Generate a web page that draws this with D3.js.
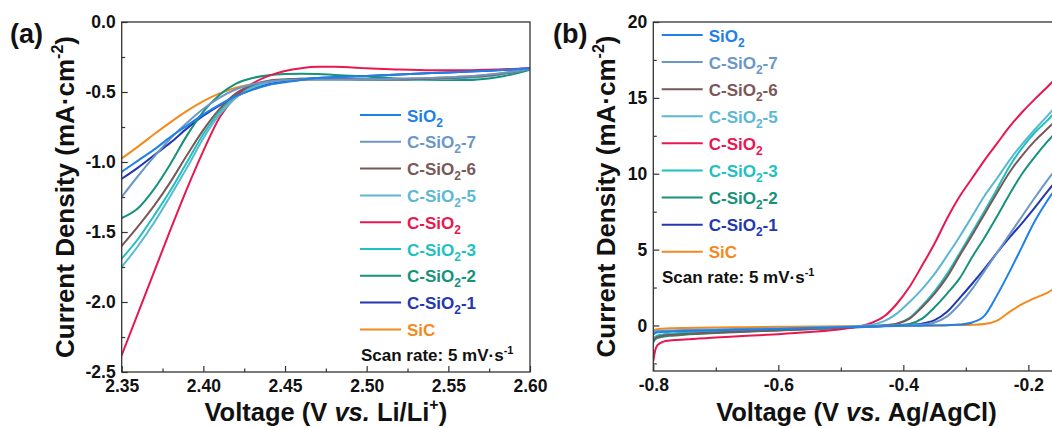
<!DOCTYPE html>
<html>
<head>
<meta charset="utf-8">
<script src="https://cdn.jsdelivr.net/npm/d3@7"></script>
<style>
  html, body { margin: 0; padding: 0; background: #fff; }
  svg { display: block; font-family: "Liberation Sans", Arial, sans-serif; font-weight: bold; }
</style>
</head>
<body>
<svg id="chart" width="1052" height="428"></svg>
<script>
// ---------- Panel (a): LSV in Li/Li+ window (V vs J, mA cm^-2) ----------
const voltA = [2.35, 2.36, 2.37, 2.38, 2.39, 2.40, 2.41, 2.42, 2.43, 2.44, 2.45, 2.46, 2.47, 2.48, 2.50, 2.52, 2.54, 2.56, 2.58, 2.60];
const sio2A  = [-1.07, -0.99, -0.91, -0.82, -0.74, -0.66, -0.59, -0.53, -0.485, -0.45, -0.43, -0.415, -0.40, -0.395, -0.385, -0.375, -0.365, -0.355, -0.345, -0.33];
const c7A    = [-1.25, -1.10, -0.96, -0.83, -0.72, -0.62, -0.54, -0.48, -0.445, -0.425, -0.415, -0.41, -0.41, -0.41, -0.41, -0.405, -0.40, -0.39, -0.37, -0.335];
const c6A    = [-1.60, -1.46, -1.31, -1.14, -0.95, -0.77, -0.62, -0.51, -0.45, -0.42, -0.41, -0.405, -0.405, -0.405, -0.41, -0.41, -0.405, -0.395, -0.375, -0.335];
const c5A    = [-1.75, -1.60, -1.43, -1.24, -1.04, -0.83, -0.66, -0.54, -0.47, -0.43, -0.415, -0.41, -0.41, -0.41, -0.415, -0.415, -0.41, -0.40, -0.38, -0.335];
const cA     = [-2.38, -2.08, -1.78, -1.48, -1.19, -0.92, -0.68, -0.53, -0.44, -0.385, -0.35, -0.33, -0.32, -0.32, -0.33, -0.34, -0.345, -0.345, -0.34, -0.33];
const c3A    = [-1.69, -1.55, -1.38, -1.20, -1.00, -0.80, -0.64, -0.525, -0.46, -0.425, -0.41, -0.405, -0.405, -0.405, -0.41, -0.41, -0.405, -0.395, -0.375, -0.335];
const c2A    = [-1.40, -1.33, -1.19, -1.01, -0.81, -0.64, -0.52, -0.44, -0.40, -0.38, -0.372, -0.37, -0.372, -0.378, -0.39, -0.405, -0.415, -0.415, -0.395, -0.34];
const c1A    = [-1.12, -1.04, -0.95, -0.86, -0.76, -0.67, -0.595, -0.53, -0.48, -0.445, -0.425, -0.41, -0.40, -0.395, -0.385, -0.375, -0.365, -0.355, -0.345, -0.33];
const sicA   = [-0.974, -0.89, -0.80, -0.715, -0.635, -0.565, -0.51, -0.47, -0.445, -0.43, -0.42, -0.415, -0.41, -0.41, -0.41, -0.405, -0.40, -0.39, -0.37, -0.335];

// ---------- Panel (b): LSV vs Ag/AgCl ----------
const voltB = [-0.80, -0.797, -0.793, -0.785, -0.77, -0.75, -0.70, -0.65, -0.60, -0.55, -0.50, -0.47, -0.45, -0.43, -0.41, -0.39, -0.37, -0.35, -0.33, -0.31, -0.29, -0.27, -0.25, -0.23, -0.21, -0.19, -0.17, -0.15];
const sio2B = [-0.6, -0.5, -0.45, -0.42, -0.4, -0.37, -0.32, -0.27, -0.23, -0.17, -0.12, -0.09, -0.07, -0.05, -0.03, -0.02, -0.01, 0.0, 0.02, 0.06, 0.2, 0.65, 2.0, 3.55, 5.2, 6.85, 8.2, 9.4];
const c7B   = [-0.45, -0.4, -0.37, -0.35, -0.33, -0.3, -0.26, -0.23, -0.2, -0.15, -0.1, -0.07, -0.05, -0.02, 0.0, 0.02, 0.06, 0.2, 0.6, 1.4, 2.4, 3.6, 4.8, 6.0, 7.2, 8.4, 9.55, 10.6];
const c6B   = [-1.0, -0.85, -0.75, -0.68, -0.62, -0.56, -0.46, -0.38, -0.31, -0.23, -0.15, -0.09, -0.05, 0.02, 0.12, 0.45, 1.2, 2.1, 3.2, 4.6, 5.95, 7.35, 8.75, 10.1, 11.2, 12.15, 12.95, 13.7];
const c5B   = [-0.55, -0.48, -0.43, -0.4, -0.37, -0.34, -0.29, -0.24, -0.2, -0.15, -0.09, -0.03, 0.05, 0.3, 0.8, 1.55, 2.4, 3.4, 4.6, 5.85, 7.2, 8.55, 9.7, 10.9, 11.95, 12.9, 13.8, 14.7];
const cB    = [-2.35, -1.65, -1.28, -1.08, -0.98, -0.92, -0.8, -0.68, -0.57, -0.43, -0.25, -0.06, 0.18, 0.62, 1.45, 2.55, 3.95, 5.4, 7.05, 8.5, 9.7, 10.9, 12.0, 13.1, 14.05, 14.9, 15.7, 16.55];
const c3B   = [-0.9, -0.75, -0.66, -0.6, -0.54, -0.48, -0.39, -0.33, -0.27, -0.2, -0.13, -0.08, -0.04, 0.02, 0.12, 0.5, 1.3, 2.25, 3.4, 4.75, 6.15, 7.55, 9.0, 10.5, 11.7, 12.7, 13.5, 14.4];
const c2B   = [-1.1, -0.92, -0.82, -0.74, -0.67, -0.61, -0.5, -0.41, -0.33, -0.25, -0.16, -0.11, -0.07, -0.03, 0.02, 0.1, 0.45, 1.2, 2.1, 3.1, 4.5, 5.8, 7.2, 8.65, 10.0, 11.1, 12.1, 13.0];
const c1B   = [-0.95, -0.8, -0.7, -0.63, -0.57, -0.51, -0.42, -0.36, -0.3, -0.22, -0.15, -0.1, -0.07, -0.04, 0.0, 0.04, 0.12, 0.35, 0.9, 1.8, 2.75, 3.75, 4.8, 5.8, 6.75, 7.75, 8.8, 9.8];
const sicB  = [-0.35, -0.28, -0.24, -0.21, -0.18, -0.16, -0.13, -0.11, -0.09, -0.07, -0.05, -0.04, -0.03, -0.02, -0.01, 0.0, 0.0, 0.01, 0.02, 0.03, 0.05, 0.1, 0.32, 0.9, 1.4, 1.8, 2.15, 2.7];

// Sample names in legend order
const sampleNames = ["SiO2", "C-SiO2-7", "C-SiO2-6", "C-SiO2-5", "C-SiO2", "C-SiO2-3", "C-SiO2-2", "C-SiO2-1", "SiC"];
const seriesA = [sio2A, c7A, c6A, c5A, cA, c3A, c2A, c1A, sicA];
const seriesB = [sio2B, c7B, c6B, c5B, cB, c3B, c2B, c1B, sicB];

// Tick values and labels
const xMajorA = [2.35, 2.40, 2.45, 2.50, 2.55, 2.60];
const xMinorA = [2.375, 2.425, 2.475, 2.525, 2.575];
const yMajorA = [0, -0.5, -1.0, -1.5, -2.0, -2.5];
const yMinorA = [-0.25, -0.75, -1.25, -1.75, -2.25];
const xMajorB = [-0.8, -0.6, -0.4, -0.2];
const xMinorB = [-0.7, -0.5, -0.3];
const yMajorB = [0, 5, 10, 15, 20];
const yMinorB = [-2.5, 2.5, 7.5, 12.5, 17.5];

const palette = ["#1f80e8", "#6b97c7", "#7a5858", "#5bb8d3", "#e8174f", "#1fc0c0", "#16917a", "#2237b0", "#f28a1e"];

const svg = d3.select("#chart");
svg.append("rect").attr("width", 1052).attr("height", 428).attr("fill", "#fff");
const defs = svg.append("defs");

// Chemical label with subscripted "2"
function chemText(sel, name) {
  const i = name.indexOf("O2");
  if (i < 0) { sel.append("tspan").text(name); return; }
  sel.append("tspan").text(name.slice(0, i + 1));
  sel.append("tspan").attr("font-size", "12px").attr("dy", 5).text("2");
  const rest = name.slice(i + 2);
  if (rest) sel.append("tspan").attr("dy", -5).text(rest);
}

function styleAxis(g) {
  g.select(".domain").remove();
  g.selectAll(".tick line").attr("stroke", "#333").attr("stroke-width", 1.2);
  g.selectAll(".tick text").attr("font-family", "'Liberation Sans', Arial, sans-serif")
    .attr("font-weight", "bold").attr("font-size", "17.5px").attr("fill", "#111");
  g.attr("font-family", null).attr("font-size", null);
}

function drawPanel(o) {
  const x = d3.scaleLinear().domain(o.xDomain).range([o.left, o.right]);
  const y = d3.scaleLinear().domain(o.yDomain).range([o.bottom, o.top]);
  const g = svg.append("g");

  defs.append("clipPath").attr("id", o.id + "-clip")
    .append("rect").attr("x", o.left).attr("y", o.top)
    .attr("width", o.right - o.left).attr("height", o.bottom - o.top);

  // curves, last legend entry drawn first
  const line = d3.line().x(d => x(d[0])).y(d => y(d[1])).curve(d3.curveMonotoneX);
  const curves = g.append("g").attr("clip-path", `url(#${o.id}-clip)`);
  for (let k = o.series.length - 1; k >= 0; k--) {
    const pts = o.volts.map((v, j) => [v, o.series[k][j]]);
    curves.append("path").attr("d", line(pts)).attr("fill", "none")
      .attr("stroke", palette[k]).attr("stroke-width", 2)
      .attr("stroke-linejoin", "round").attr("stroke-linecap", "round");
  }

  // ticks (inward)
  const bx = g.append("g").attr("transform", `translate(0,${o.bottom})`);
  bx.append("g").call(d3.axisBottom(x).tickValues(o.xMinor).tickSize(-3.5).tickFormat("")).call(styleAxis);
  bx.append("g").call(d3.axisBottom(x).tickValues(o.xMajor).tickSize(-6).tickPadding(8).tickFormat(o.xFmt)).call(styleAxis);
  const ly = g.append("g").attr("transform", `translate(${o.left},0)`);
  ly.append("g").call(d3.axisLeft(y).tickValues(o.yMinor).tickSize(-3.5).tickFormat("")).call(styleAxis);
  ly.append("g").call(d3.axisLeft(y).tickValues(o.yMajor).tickSize(-6).tickPadding(6).tickFormat(o.yFmt)).call(styleAxis);

  // frame
  g.append("rect").attr("x", o.left).attr("y", o.top)
    .attr("width", o.right - o.left).attr("height", o.bottom - o.top)
    .attr("fill", "none").attr("stroke", "#333").attr("stroke-width", 1.3);

  // legend
  o.names.forEach((name, k) => {
    const cy = o.legTop + k * o.legStep;
    g.append("line").attr("x1", o.legX).attr("x2", o.legX + 41).attr("y1", cy).attr("y2", cy)
      .attr("stroke", palette[k]).attr("stroke-width", 2);
    const t = g.append("text").attr("x", o.legX + 47).attr("y", cy + 6.5)
      .attr("font-size", "17px").attr("fill", palette[k]);
    chemText(t, name);
  });

  // scan rate note
  const sr = g.append("text").attr("x", o.scanX).attr("y", o.scanY).attr("font-size", "17px").attr("fill", "#111");
  sr.append("tspan").text("Scan rate: 5 mV\u00b7s");
  sr.append("tspan").attr("font-size", "11px").attr("dy", -7).text("-1");

  // x title
  const xt = g.append("text").attr("x", (o.left + o.right) / 2).attr("y", 421)
    .attr("text-anchor", "middle").attr("font-size", "25.5px").attr("fill", "#111");
  xt.append("tspan").text("Voltage (V ");
  xt.append("tspan").attr("font-style", "italic").text("vs.");
  xt.append("tspan").text(" " + o.ref);
  if (o.refSup) {
    xt.append("tspan").attr("font-size", "16px").attr("dy", -11).text(o.refSup);
    xt.append("tspan").attr("dy", 11).text(")");
  } else {
    xt.append("tspan").text(")");
  }

  // y title
  const yt = g.append("text")
    .attr("transform", `translate(${o.yTitleX},${(o.top + o.bottom) / 2}) rotate(-90)`)
    .attr("text-anchor", "middle").attr("font-size", "26px").attr("fill", "#111");
  yt.append("tspan").text("Current Density (mA\u00b7cm");
  yt.append("tspan").attr("font-size", "16px").attr("dy", -11).text("-2");
  yt.append("tspan").attr("dy", 11).text(")");

  // panel letter
  g.append("text").attr("x", o.letterX).attr("y", 43).attr("font-size", "27px").attr("fill", "#111").text(o.letter);
}

drawPanel({
  id: "pa", letter: "(a)", letterX: 10,
  left: 121.7, right: 530, top: 22, bottom: 372,
  xDomain: [2.35, 2.60], yDomain: [-2.5, 0],
  xMajor: xMajorA, xMinor: xMinorA, yMajor: yMajorA, yMinor: yMinorA,
  xFmt: d3.format(".2f"), yFmt: d => d3.format(".1f")(d).replace("\u2212", "-"),
  volts: voltA, series: seriesA, names: sampleNames,
  legX: 360, legTop: 115, legStep: 26.8,
  scanX: 361, scanY: 361,
  ref: "Li/Li", refSup: "+",
  yTitleX: 74
});

drawPanel({
  id: "pb", letter: "(b)", letterX: 553,
  left: 653.3, right: 1059.6, top: 22, bottom: 371,
  xDomain: [-0.8, -0.15], yDomain: [-3, 20],
  xMajor: xMajorB, xMinor: xMinorB, yMajor: yMajorB, yMinor: yMinorB,
  xFmt: d => d3.format(".1f")(d).replace("\u2212", "-"), yFmt: d3.format("d"),
  volts: voltB, series: seriesB, names: sampleNames,
  legX: 661.7, legTop: 35, legStep: 27.09,
  scanX: 662, scanY: 283,
  ref: "Ag/AgCl", refSup: null,
  yTitleX: 615
});
</script>
</body>
</html>
